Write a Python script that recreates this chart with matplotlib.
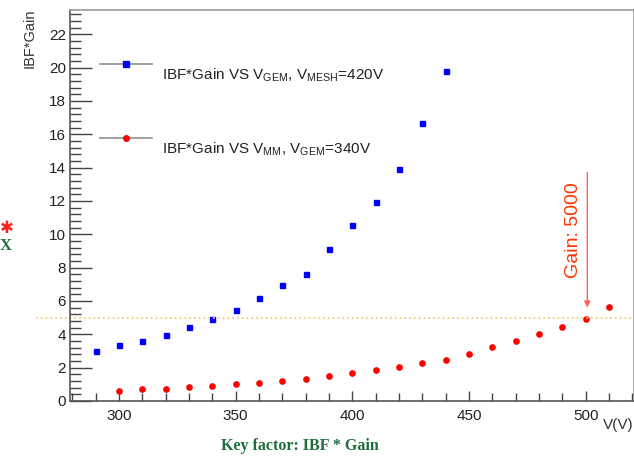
import numpy as np
import matplotlib
matplotlib.use("Agg")
import matplotlib.pyplot as plt
from matplotlib.lines import Line2D
from matplotlib.ticker import MultipleLocator

plt.rcParams['font.family'] = ['Liberation Sans', 'DejaVu Sans']
plt.rcParams['mathtext.default'] = 'regular'

# IBF*Gain vs V_GEM (V_MESH = 420 V)
v_gem = [290, 300, 310, 320, 330, 340, 350, 360, 370, 380, 390, 400, 410, 420, 430, 440]
ibf_gem = [3.02, 3.34, 3.58, 3.96, 4.42, 4.94, 5.44, 6.18, 6.94, 7.64, 9.10, 10.58, 11.92, 13.9, 16.66, 19.8]

# IBF*Gain vs V_MM (V_GEM = 340 V)
v_mm = [300, 310, 320, 330, 340, 350, 360, 370, 380, 390, 400, 410, 420, 430, 440,
        450, 460, 470, 480, 490, 500, 510]
ibf_mm = [0.60, 0.70, 0.72, 0.84, 0.92, 1.04, 1.06, 1.20, 1.32, 1.52, 1.68, 1.84, 2.04,
          2.28, 2.48, 2.82, 3.26, 3.58, 4.00, 4.44, 4.90, 5.62]

gain_level = 5.0      # IBF*Gain reference line
gain_voltage = 500    # V_MM at gain 5000

fig = plt.figure(figsize=(6.34, 4.57), dpi=100)
ax = fig.add_axes([70/634, 1 - 401/457, 563.5/634, 391/457])

ax.plot(v_gem, ibf_gem, ls='none', marker='s', ms=3.6, color='#0000ff', mec='#0000ff')
ax.plot(v_mm, ibf_mm, ls='none', marker='o', ms=3.8, color='#ff0000', mec='#ff0000')

ax.set_xlim(279, 520.5)
ax.set_ylim(0, 23.45)

ax.xaxis.set_major_locator(MultipleLocator(50))
ax.xaxis.set_minor_locator(MultipleLocator(10))
ax.yaxis.set_major_locator(MultipleLocator(2))
ax.yaxis.set_minor_locator(MultipleLocator(0.4))
ax.tick_params(which='both', direction='in', colors='#444444', labelsize=11,
               top=False, right=False, width=1)
ax.tick_params(axis='y', which='major', length=16, pad=3)
ax.tick_params(axis='y', which='minor', length=8)
ax.tick_params(axis='x', which='major', length=7, pad=6)
ax.tick_params(axis='x', which='minor', length=6)
for lab in ax.get_xticklabels() + ax.get_yticklabels():
    lab.set_color('#222222')
for sp in ['left', 'bottom']:
    ax.spines[sp].set_color('#555555')
    ax.spines[sp].set_linewidth(1.2)
for sp in ['top', 'right']:
    ax.spines[sp].set_color('#999999')
    ax.spines[sp].set_linewidth(1.2)

# dotted reference line, extends past the frame on the left
ax.plot([-0.06, 1.0], [gain_level, gain_level], color='#f0d080', ls=':', lw=1.3,
        transform=ax.get_yaxis_transform(), clip_on=False)

# arrow marking gain 5000
ax.annotate('', xy=(gain_voltage + 0.7, 5.6), xytext=(gain_voltage + 0.7, 13.7),
            arrowprops=dict(arrowstyle='-|>', color='#ff6060', lw=1.0,
                            mutation_scale=9, shrinkA=0, shrinkB=0))
ax.text(gain_voltage - 5.0, 10.25, 'Gain: 5000', rotation=90, color='#ff3300',
        fontsize=14, ha='center', va='center')

# legend drawn ROOT-style
for ly, ty, mk, col, txt in [
        (64, 75, 's', '#0000ff', r'IBF*Gain VS V$_{GEM}$, V$_{MESH}$=420V'),
        (138, 149, 'o', '#ff0000', r'IBF*Gain VS V$_{MM}$, V$_{GEM}$=340V')]:
    fig.add_artist(Line2D([100/634, 152/634], [1 - ly/457, 1 - ly/457],
                          color='#999999', lw=1.3))
    fig.add_artist(Line2D([126/634], [1 - ly/457], marker=mk, ms=4, color=col, ls='none'))
    fig.text(162/634, 1 - ty/457, txt, fontsize=11, color='#222222', va='center')

fig.text(30/634, 1 - 8/457, 'IBF*Gain', rotation=90, fontsize=10.5, color='#333333',
         ha='center', va='top')
fig.text(603/634, 1 - 425/457, 'V(V)', fontsize=11, color='#333333', va='center')
fig.text(300/634, 1 - 446/457, 'Key factor: IBF * Gain', fontsize=11.5, fontweight='bold',
         family='Liberation Serif', color='#1e6e3c', ha='center', va='center')

# glyphs at the far left edge
fig.text(0, 1 - 228/457, '\u2731', fontsize=12, color='#ff2020', ha='left',
         va='center', family='DejaVu Sans')
fig.text(0, 1 - 246/457, 'X', fontsize=12, fontweight='bold', family='Liberation Serif',
         color='#1e6e3c', ha='left', va='center')

fig.savefig('out.png', dpi=100)
